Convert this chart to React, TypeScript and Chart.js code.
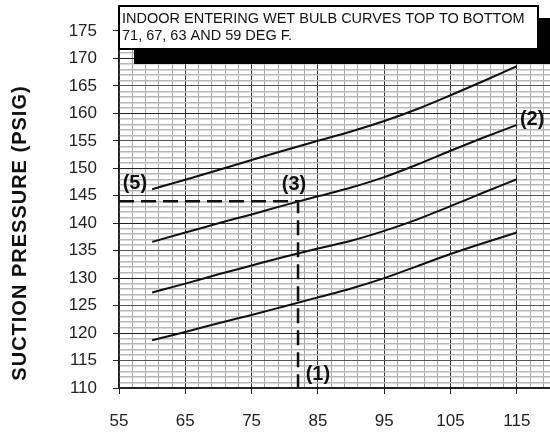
import React, { useEffect, useRef } from 'react';
import { Chart, registerables } from 'chart.js';

Chart.register(...registerables);

// ---- data ----
const xValues = [60, 65, 70, 75, 80, 85, 90, 95, 100, 105, 110, 115];
const wb71 = [146.2, 147.9, 149.7, 151.5, 153.3, 155.0, 156.7, 158.6, 160.8, 163.3, 165.9, 168.6];
const wb67 = [136.6, 138.3, 140.0, 141.6, 143.3, 144.9, 146.5, 148.4, 150.7, 153.2, 155.6, 157.9];
const wb63 = [127.4, 129.0, 130.7, 132.3, 133.9, 135.4, 136.8, 138.6, 140.7, 143.1, 145.6, 148.0];
const wb59 = [118.7, 120.2, 121.8, 123.3, 124.9, 126.5, 128.1, 130.0, 132.2, 134.4, 136.4, 138.3];

const guideX = [55, 82, 82];
const guideY = [144, 144, 110];

const xTickLabels = [55, 65, 75, 85, 95, 105, 115];
const yTickLabels = [110, 115, 120, 125, 130, 135, 140, 145, 150, 155, 160, 165, 170, 175];

const xMin = 55;
const xMax = 120;
const xGridStep = 2;
const yMin = 110;
const yMax = 177;
const yGridStep = 1;

const pointLabels = [
  { text: '(5)', x: 57.4, y: 147.2 },
  { text: '(3)', x: 81.4, y: 147.0 },
  { text: '(2)', x: 117.3, y: 158.8 },
  { text: '(1)', x: 85.0, y: 112.4 },
];

const noteLines = ['INDOOR ENTERING WET BULB CURVES TOP TO BOTTOM', '71, 67, 63 AND 59 DEG F.'];
const yTitle = 'SUCTION PRESSURE (PSIG)';

const FONT = '"Liberation Sans", Arial, Helvetica, sans-serif';

function gridValues(min: number, max: number, step: number) {
  const out: { value: number }[] = [];
  for (let v = min; v < max + 1e-9; v += step) out.push({ value: Math.round(v * 1000) / 1000 });
  return out;
}

const overlay = {
  id: 'overlay',
  afterDraw(chart: any) {
    const { ctx, chartArea } = chart;
    const x = chart.scales.x;
    const y = chart.scales.y;
    ctx.save();
    // point labels
    ctx.font = `bold 20px ${FONT}`;
    ctx.fillStyle = '#111';
    ctx.textAlign = 'center';
    ctx.textBaseline = 'middle';
    pointLabels.forEach((p) => {
      ctx.fillText(p.text, x.getPixelForValue(p.x), y.getPixelForValue(p.y));
    });
    // y title
    ctx.save();
    ctx.translate(20, 233);
    ctx.rotate(-Math.PI / 2);
    ctx.font = `bold 20px ${FONT}`;
    (ctx as any).letterSpacing = '1px';
    ctx.textAlign = 'center';
    ctx.textBaseline = 'middle';
    ctx.fillStyle = '#111';
    ctx.fillText(yTitle, 0, 0);
    ctx.restore();
    // note box with shadow
    const left = chartArea.left;
    ctx.fillStyle = '#000';
    ctx.fillRect(left + 15, 18, chart.width - left - 15, 46);
    ctx.fillStyle = '#fff';
    ctx.fillRect(left, 6, 419, 43);
    ctx.strokeStyle = '#000';
    ctx.lineWidth = 2;
    ctx.strokeRect(left, 6, 419, 43);
    ctx.fillStyle = '#111';
    ctx.font = `14.5px ${FONT}`;
    ctx.textAlign = 'left';
    ctx.textBaseline = 'middle';
    ctx.fillText(noteLines[0], left + 3, 18.5);
    ctx.fillText(noteLines[1], left + 3, 36);
    ctx.restore();
  },
};

export default function App() {
  const ref = useRef<HTMLCanvasElement>(null);
  useEffect(() => {
    document.body.style.margin = '0';
    Chart.defaults.font.family = FONT;
    const mk = (ys: number[]) => xValues.map((xv, i) => ({ x: xv, y: ys[i] }));
    const curve = (ys: number[]) => ({
      data: mk(ys),
      borderColor: '#111',
      borderWidth: 2,
      pointRadius: 0,
      cubicInterpolationMode: 'monotone' as const,
      fill: false,
    });
    const chart = new Chart(ref.current!, {
      type: 'line',
      data: {
        datasets: [
          curve(wb71),
          curve(wb67),
          curve(wb63),
          curve(wb59),
          {
            data: guideX.map((xv, i) => ({ x: xv, y: guideY[i] })),
            borderColor: '#111',
            borderWidth: 2.5,
            borderDash: [15, 7],
            pointRadius: 0,
            tension: 0,
            fill: false,
          },
        ],
      },
      options: {
        responsive: false,
        animation: false,
        layout: { padding: { top: 20, right: 0, bottom: 0, left: 0 } },
        plugins: { legend: { display: false }, tooltip: { enabled: false } },
        scales: {
          x: {
            type: 'linear',
            min: xMin,
            max: xMax,
            afterBuildTicks: (s: any) => {
              s.ticks = gridValues(xMin, xMax - 1, xGridStep);
            },
            afterFit: (s: any) => {
              s.height = 44;
              s.paddingLeft = 0;
              s.paddingRight = 0;
              s.paddingTop = 0;
              s.paddingBottom = 0;
            },
            ticks: {
              autoSkip: false,
              maxRotation: 0,
              padding: 17,
              color: '#222',
              font: { size: 17 },
              callback: (v: any) => (xTickLabels.includes(Number(v)) ? String(v) : ''),
            },
            grid: {
              color: (c: any) => (c.tick && xTickLabels.includes(c.tick.value) ? '#333' : '#a8a8a8'),
              tickColor: (c: any) => (c.tick && xTickLabels.includes(c.tick.value) ? '#222' : 'rgba(0,0,0,0)'),
              lineWidth: 1,
              tickLength: 6,
            },
            border: { color: '#222', width: 1.5 },
          },
          y: {
            type: 'linear',
            min: yMin,
            max: yMax,
            afterBuildTicks: (s: any) => {
              s.ticks = gridValues(yMin, yMax, yGridStep);
            },
            afterFit: (s: any) => {
              s.width = 119;
              s.paddingLeft = 0;
              s.paddingRight = 0;
              s.paddingTop = 0;
              s.paddingBottom = 0;
            },
            ticks: {
              autoSkip: false,
              padding: 16,
              color: '#222',
              font: { size: 17 },
              callback: (v: any) => (yTickLabels.includes(Number(v)) ? String(v) : ''),
            },
            grid: {
              color: (c: any) => {
                const v = c.tick ? c.tick.value : 0;
                if (v % 10 === 0) return '#222';
                if (v % 5 === 0) return '#555';
                return '#b8b8b8';
              },
              lineWidth: (c: any) => {
                const v = c.tick ? c.tick.value : 0;
                return v % 5 === 0 ? 1 : 1.5;
              },
              tickColor: (c: any) => (c.tick && yTickLabels.includes(c.tick.value) ? '#222' : 'rgba(0,0,0,0)'),
              tickLength: 6,
            },
            border: { color: '#222', width: 1.5 },
          },
        },
      },
      plugins: [overlay],
    });
    return () => chart.destroy();
  }, []);
  return (
    <div style={{ width: 550, height: 432 }}>
      <canvas ref={ref} width={550} height={432} style={{ display: 'block' }} />
    </div>
  );
}
